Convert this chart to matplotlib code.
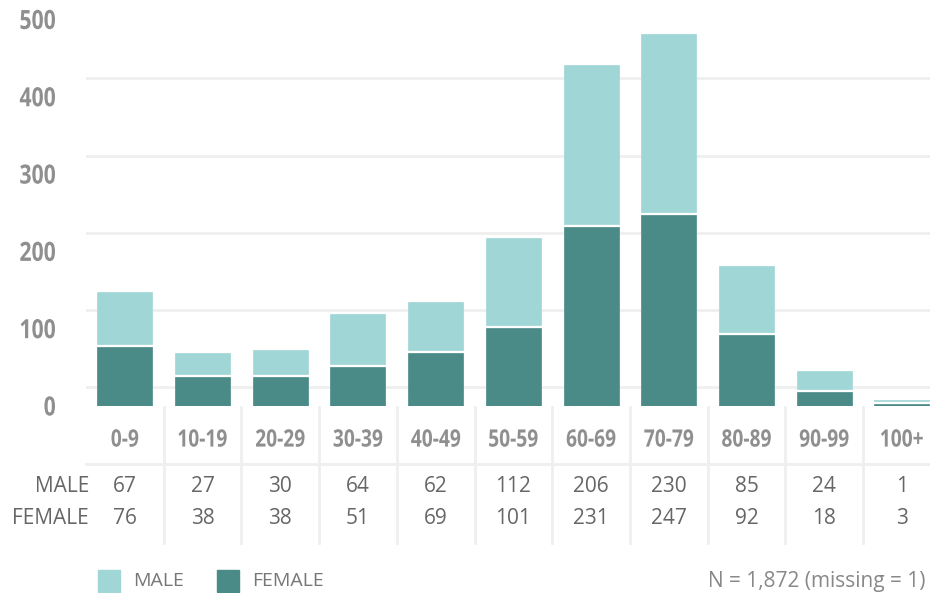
import matplotlib
matplotlib.use("Agg")
import matplotlib.pyplot as plt
from matplotlib.transforms import blended_transform_factory, Affine2D
from matplotlib.patches import Rectangle, PathPatch
from matplotlib.textpath import TextPath
from matplotlib.font_manager import FontProperties

# Data
age_groups = ["0-9", "10-19", "20-29", "30-39", "40-49", "50-59",
              "60-69", "70-79", "80-89", "90-99", "100+"]
male = [67, 27, 30, 64, 62, 112, 206, 230, 85, 24, 1]
female = [76, 38, 38, 51, 69, 101, 231, 247, 92, 18, 3]
y_ticks = [0, 100, 200, 300, 400, 500]
note = "N = 1,872 (missing = 1)"

LIGHT = "#a1d6d6"
DARK = "#4a8b88"
GRID = "#efefef"
LABEL = "#8f8f8f"
TEXT = "#666666"
body = "Open Sans"

W, H = 930, 593
fig = plt.figure(figsize=(W / 100, H / 100), dpi=100)

# axes: x from 86px, 77.7px per category; y baseline at 406px
left, col = 86, 77.7
px_per_unit = 0.773
ax = fig.add_axes([left / W, 1 - 406 / H, 11 * col / W, 406 / H])
ax.set_xlim(-0.5, 10.5)
ax.set_ylim(0, 406 / px_per_unit)
ax.axis("off")

x = list(range(len(age_groups)))
bw = 55 / col
gap = 3 / px_per_unit  # white gap between the two segments

# grid lines sit a little above each tick value
for v in y_ticks[:-1]:
    ax.axhline(v + 24, color=GRID, lw=2, zorder=0)

ax.bar(x, female, width=bw, color=DARK, edgecolor=DARK, lw=0.5, zorder=2)
ax.bar(x, male, width=bw, bottom=[f + gap for f in female],
       color=LIGHT, edgecolor=LIGHT, lw=0.5, zorder=2)

# condensed bold labels: bold glyphs squeezed horizontally
bold = FontProperties(family=body, weight="bold")


def narrow_text(px, py, s, size, ha="center", sx=0.8):
    # px, py in display pixels (origin bottom-left)
    tp = TextPath((0, 0), s, size=size, prop=bold)
    ref = TextPath((0, 0), "0", size=size, prop=bold).get_extents()
    ext = tp.get_extents()
    if ha == "center":
        x0 = px - (ext.x0 + ext.x1) / 2 * sx
    else:
        x0 = px - ext.x1 * sx
    y0 = py - (ref.y0 + ref.y1) / 2
    fig.add_artist(PathPatch(tp, transform=Affine2D().scale(sx, 1).translate(x0, y0),
                             color=LABEL, lw=0))


# y tick labels
for v in y_ticks:
    _, py = ax.transData.transform((0, v))
    narrow_text(55, py, str(v), 26.5, ha="right")

# table below the chart
tr = blended_transform_factory(ax.transData, fig.transFigure)
fy = lambda px: 1 - px / H

for i in range(len(age_groups) - 1):
    fig.add_artist(plt.Line2D([i + 0.5, i + 0.5], [fy(407), fy(543)],
                              transform=tr, color=GRID, lw=2))
fig.add_artist(plt.Line2D([-0.5, 10.5], [fy(464), fy(464)],
                          transform=tr, color=GRID, lw=2))

for i, g in enumerate(age_groups):
    px, _ = ax.transData.transform((i, 0))
    narrow_text(px, H - 438, g, 24)
    fig.text(i, fy(487), str(male[i]), transform=tr, ha="center", va="center",
             fontsize=15, family=body, color=TEXT)
    fig.text(i, fy(518), str(female[i]), transform=tr, ha="center", va="center",
             fontsize=15, family=body, color=TEXT)

fig.text(89 / W, fy(487), "MALE", ha="right", va="center",
         fontsize=15, family=body, color=TEXT)
fig.text(89 / W, fy(518), "FEMALE", ha="right", va="center",
         fontsize=15, family=body, color=TEXT)

# legend
for x0, c, lab in [(98, LIGHT, "MALE"), (217, DARK, "FEMALE")]:
    fig.add_artist(Rectangle((x0 / W, fy(592)), 22 / W, 22 / H,
                             transform=fig.transFigure, color=c))
    fig.text((x0 + 35) / W, fy(581), lab, ha="left", va="center",
             fontsize=14, family=body, color="#777777")

fig.text(925 / W, fy(581), note, ha="right", va="center",
         fontsize=15, family=body, color="#888888")

fig.savefig("out.png", dpi=100)
